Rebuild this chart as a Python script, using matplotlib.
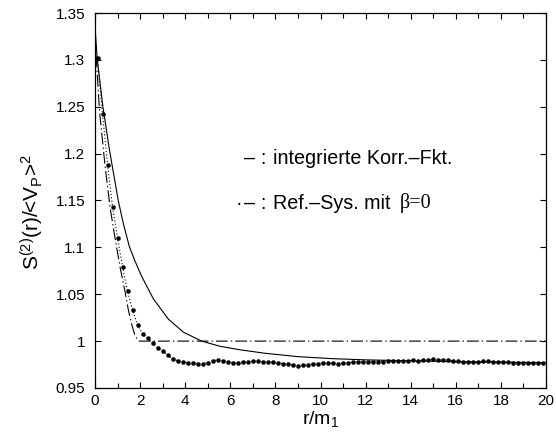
import numpy as np
import matplotlib
matplotlib.use("Agg")
import matplotlib.pyplot as plt
from matplotlib.ticker import MultipleLocator

plt.rcParams['font.family'] = ['Liberation Sans', 'DejaVu Sans']
plt.rcParams['mathtext.fontset'] = 'custom'
plt.rcParams['mathtext.rm'] = 'Liberation Sans'
plt.rcParams['mathtext.it'] = 'Liberation Sans'
plt.rcParams['lines.scale_dashes'] = False

# Simulated S2(r)/<V_P>^2 (points on the bin centres)
r_sim = (np.arange(90) + 0.5) * 20.0 / 90.0
s_sim = [1.302, 1.242, 1.188, 1.143, 1.110, 1.079, 1.053, 1.033, 1.017, 1.008,
         1.003, 0.998, 0.993, 0.989, 0.985, 0.981, 0.979, 0.978, 0.977, 0.977,
         0.976, 0.976, 0.977, 0.979, 0.980, 0.979, 0.978, 0.977, 0.9765, 0.9775,
         0.978, 0.9784, 0.9784, 0.978, 0.9777, 0.9772, 0.9767, 0.976, 0.9752, 0.9745,
         0.9738, 0.9742, 0.9749, 0.9756, 0.976, 0.9767, 0.9767, 0.9763, 0.976, 0.9763,
         0.977, 0.9774, 0.9774, 0.9777, 0.9777, 0.978, 0.978, 0.9782, 0.9784, 0.9786,
         0.9788, 0.9788, 0.9791, 0.9795, 0.9793, 0.9795, 0.9802, 0.9806, 0.9802, 0.9798,
         0.9795, 0.9791, 0.9784, 0.9777, 0.9774, 0.9777, 0.978, 0.9784, 0.9784, 0.978,
         0.9777, 0.9774, 0.9774, 0.977, 0.9767, 0.9763, 0.9763, 0.9763, 0.9767, 0.977]

# Integrated correlation function
r_int = [0.0, 0.1, 0.35, 0.64, 1.03, 1.25, 1.52, 1.77, 2.07, 2.59, 3.25, 3.92,
         4.73, 5.54, 6.36, 7.54, 9.02, 10.5, 12.0, 14.0, 16.0, 18.0, 20.0]
s_int = [1.335, 1.30, 1.25, 1.204, 1.15, 1.126, 1.101, 1.0855, 1.069, 1.045,
         1.0235, 1.0095, 1.0, 0.9945, 0.991, 0.987, 0.9834, 0.9813, 0.9800,
         0.979, 0.978, 0.9775, 0.977]

# Reference system with beta = 0
r_ref = [0.0, 0.2, 0.44, 0.665, 0.887, 1.11, 1.33, 1.48, 1.63, 1.77, 1.9, 1.97, 20.0]
s_ref = [1.325, 1.245, 1.188, 1.143, 1.11, 1.079, 1.053, 1.033, 1.0175, 1.006,
         1.001, 1.0, 1.0]

fig = plt.figure(figsize=(5.56, 4.38), dpi=100)
ax = fig.add_axes([0.1709, 0.1142, 0.8111, 0.8561])

ax.plot(r_int, s_int, color='black', lw=0.8, solid_joinstyle='round')
ax.plot(r_ref, s_ref, color='black', lw=0.8,
        linestyle=(0, (8.5, 2.2, 1.0, 2.2)))
ax.plot(r_sim, s_sim, color='black', lw=0.8, linestyle=(0, (0.8, 1.6)),
        marker='o', markersize=2.9, markerfacecolor='black',
        markeredgecolor='black', markeredgewidth=0.3)

ax.set_xlim(0, 20)
ax.set_ylim(0.95, 1.35)
ax.xaxis.set_major_locator(MultipleLocator(2))
ax.xaxis.set_minor_locator(MultipleLocator(1))
ax.set_yticks(np.arange(0.95, 1.3501, 0.05))
ax.set_yticklabels(['0.95', '1', '1.05', '1.1', '1.15', '1.2', '1.25', '1.3', '1.35'])
ax.tick_params(which='both', direction='in', top=True, right=True,
               labelsize=11, width=0.8)
ax.tick_params(axis='x', pad=4)
ax.tick_params(axis='y', pad=7)
ax.tick_params(which='major', length=4.5)
ax.tick_params(which='minor', length=3.5)
for sp in ax.spines.values():
    sp.set_linewidth(0.9)

ax.set_xlabel(r'r/m$_1$', fontsize=14, labelpad=1)
ax.set_ylabel(r'S$^{(2)}$(r)/<V$_\mathrm{P}$>$^2$', fontsize=15)
ax.yaxis.set_label_coords(-0.108, 0.47)

# Line key written as text
fs = 14.2
ax.text(6.87, 1.195, '–', fontsize=fs, va='center', ha='center')
ax.text(7.45, 1.195, ':', fontsize=fs, va='center', ha='center')
ax.text(7.88, 1.195, 'integrierte Korr.–Fkt.', fontsize=fs, va='center', ha='left')
ax.text(6.36, 1.147, '·', fontsize=fs, va='center', ha='center')
ax.text(6.87, 1.147, '–', fontsize=fs, va='center', ha='center')
ax.text(7.45, 1.147, ':', fontsize=fs, va='center', ha='center')
ax.text(7.88, 1.147, 'Ref.–Sys. mit', fontsize=fs, va='center', ha='left')
ax.text(13.5, 1.147, 'β=0', fontsize=14.5, va='center', ha='left',
        family=['Liberation Serif', 'DejaVu Serif'])

fig.savefig('out.png', dpi=100)
